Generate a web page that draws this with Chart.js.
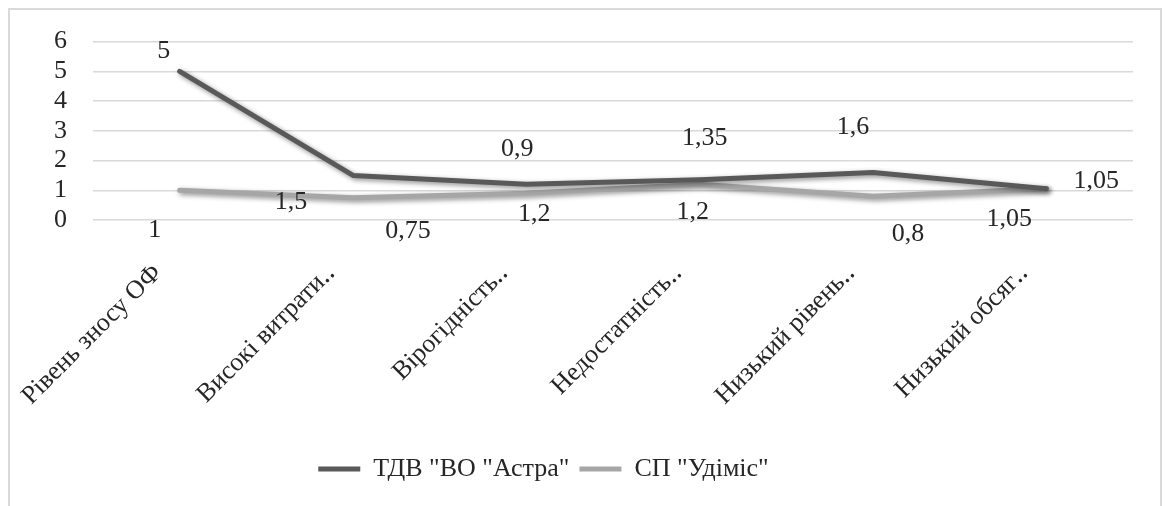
<!DOCTYPE html>
<html>
<head>
<meta charset="utf-8">
<script src="https://cdn.jsdelivr.net/npm/chart.js@4/dist/chart.umd.min.js"></script>
<style>
  body { margin: 0; background: #fff; }
  #frame { position: absolute; left: 8px; top: 8px; width: 1150px; height: 520px; border: 2px solid #d9d9d9; border-bottom: none; }
  #wrap { position: absolute; left: 0; top: 0; width: 1166px; height: 506px; }
</style>
</head>
<body>
<div id="frame"></div>
<div id="wrap"><canvas id="chart"></canvas></div>
<script>
"use strict";

var categories = [
  "Рівень зносу ОФ",
  "Високі витрати‥",
  "Вірогідність‥",
  "Недостатність‥",
  "Низький рівень‥",
  "Низький обсяг‥"
];
var astraName = "ТДВ \"ВО \"Астра\"";
var udimisName = "СП \"Удіміс\"";
var astraValues = [5, 1.5, 1.2, 1.35, 1.6, 1.05];
var udimisValues = [1, 0.75, 0.9, 1.2, 0.8, 1.05];
var yTicks = [0, 1, 2, 3, 4, 5, 6];

// where each value label sits relative to its point (Excel placed them by hand)
var astraLabelShift = [[-16, -20], [-62, 27], [8, 30], [5, -42], [-20, -45], [50, -8]];
var udimisLabelShift = [[-25, 40], [55, 33], [-9, -44], [-7, 28], [35, 38], [-37, 30]];

var serif = "Liberation Serif";
var textColor = "#262626";

function formatValue(v) {
  return String(v).replace(".", ",");
}

var shadowPlugin = {
  id: "lineShadow",
  beforeDatasetDraw: function(chart) {
    var ctx = chart.ctx;
    ctx.save();
    ctx.shadowColor = "rgba(0,0,0,0.45)";
    ctx.shadowBlur = 5;
    ctx.shadowOffsetX = 2;
    ctx.shadowOffsetY = 2;
  },
  afterDatasetDraw: function(chart) {
    chart.ctx.restore();
  }
};

// excel centres the legend a bit left of the canvas middle
var legendShift = {
  id: "legendShift",
  afterLayout: function(chart) {
    if (chart.legend) {
      chart.legend.left -= 23;
      chart.legend.right -= 23;
    }
  }
};

var valueLabelPlugin = {
  id: "valueLabels",
  afterDatasetsDraw: function(chart) {
    var ctx = chart.ctx;
    var shifts = [astraLabelShift, udimisLabelShift];
    ctx.save();
    ctx.font = "26px \"" + serif + "\"";
    ctx.fillStyle = textColor;
    ctx.textAlign = "center";
    ctx.textBaseline = "middle";
    chart.data.datasets.forEach(function(ds, i) {
      var meta = chart.getDatasetMeta(i);
      meta.data.forEach(function(pt, j) {
        ctx.fillText(formatValue(ds.data[j]), pt.x + shifts[i][j][0], pt.y + shifts[i][j][1]);
      });
    });
    ctx.restore();
  }
};

new Chart(document.getElementById("chart"), {
  type: "line",
  data: {
    labels: categories,
    datasets: [
      {
        label: astraName,
        data: astraValues,
        borderColor: "#595959",
        backgroundColor: "#595959",
        borderWidth: 5,
        pointRadius: 0,
        tension: 0,
        borderCapStyle: "round",
        borderJoinStyle: "round"
      },
      {
        label: udimisName,
        data: udimisValues,
        borderColor: "#a6a6a6",
        backgroundColor: "#a6a6a6",
        borderWidth: 5,
        pointRadius: 0,
        tension: 0,
        borderCapStyle: "round",
        borderJoinStyle: "round"
      }
    ]
  },
  options: {
    responsive: true,
    maintainAspectRatio: false,
    animation: false,
    layout: { padding: { top: 33, right: 33, bottom: 14, left: 0 } },
    scales: {
      x: {
        offset: true,
        grid: { display: false },
        border: { display: false },
        ticks: {
          color: textColor,
          font: { family: serif, size: 26 },
          minRotation: 45,
          maxRotation: 45,
          autoSkip: false,
          padding: 30,
          labelOffset: -22
        },
        afterFit: function(scale) { scale.height = 226; }
      },
      y: {
        min: 0,
        max: 6,
        afterBuildTicks: function(scale) {
          scale.ticks = yTicks.map(function(v) { return { value: v }; });
        },
        grid: { color: "#d9d9d9", lineWidth: 1.5, drawTicks: false },
        border: { display: false },
        ticks: {
          color: textColor,
          font: { family: serif, size: 26 },
          padding: 26,
          autoSkip: false,
          stepSize: 1
        },
        afterFit: function(scale) { scale.width = 93; }
      }
    },
    plugins: {
      legend: {
        position: "bottom",
        labels: {
          color: textColor,
          font: { family: serif, size: 26 },
          boxWidth: 42,
          boxHeight: 5,
          padding: 10,
          generateLabels: function(chart) {
            return Chart.defaults.plugins.legend.labels.generateLabels(chart).map(function(item) {
              item.lineWidth = 0;
              return item;
            });
          }
        }
      },
      tooltip: { enabled: false }
    }
  },
  plugins: [shadowPlugin, valueLabelPlugin, legendShift]
});
</script>
</body>
</html>
